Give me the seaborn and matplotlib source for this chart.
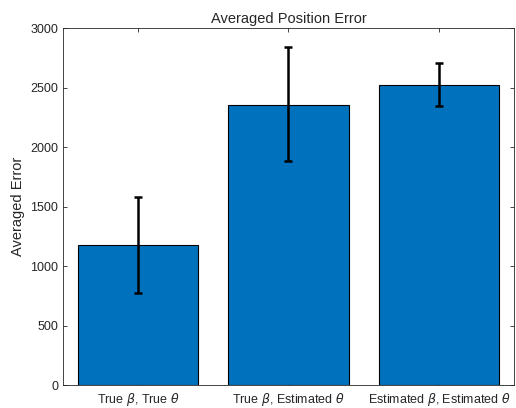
import matplotlib
matplotlib.use("Agg")
import matplotlib.pyplot as plt
import seaborn as sns
import pandas as pd
import numpy as np

categories = [r"True $\beta$, True $\theta$",
              r"True $\beta$, Estimated $\theta$",
              r"Estimated $\beta$, Estimated $\theta$"]
mean_error = [1176, 2353, 2521]
err_low = [773, 1882, 2345]
err_high = [1577, 2840, 2706]

sns.set_theme(style="white")
plt.rcParams["font.family"] = ["Liberation Sans", "DejaVu Sans"]
plt.rcParams["mathtext.fontset"] = "dejavusans"

df = pd.DataFrame({"case": categories, "error": mean_error})

fig = plt.figure(figsize=(5.16, 4.08), dpi=100)
ax = fig.add_axes([0.122, 0.056, 0.874, 0.875])

sns.barplot(data=df, x="case", y="error", color="#0072BD", saturation=1,
            width=0.8, edgecolor="black", linewidth=0.8, errorbar=None, ax=ax)

means = np.array(mean_error)
yerr = np.vstack([means - np.array(err_low), np.array(err_high) - means])
ax.errorbar(np.arange(len(categories)), means, yerr=yerr, fmt="none",
            ecolor="black", elinewidth=1.8, capsize=3, capthick=1.8)

ax.set_xlim(-0.5, 2.5)
ax.set_ylim(0, 3000)
ax.set_yticks(np.arange(0, 3001, 500))
ax.set_xlabel("")
ax.set_ylabel("Averaged Error", fontsize=10.5, color="#262626")
ax.set_title("Averaged Position Error", fontsize=10.5, color="#262626", pad=4)

for sp in ax.spines.values():
    sp.set_color("#262626")
    sp.set_linewidth(0.6)
ax.tick_params(axis="both", direction="in", length=3, width=0.6,
               colors="#262626", labelsize=9, top=True, right=True,
               bottom=True, left=True)
ax.tick_params(axis="x", labelsize=9, pad=4)

fig.savefig("out.png", dpi=100)
